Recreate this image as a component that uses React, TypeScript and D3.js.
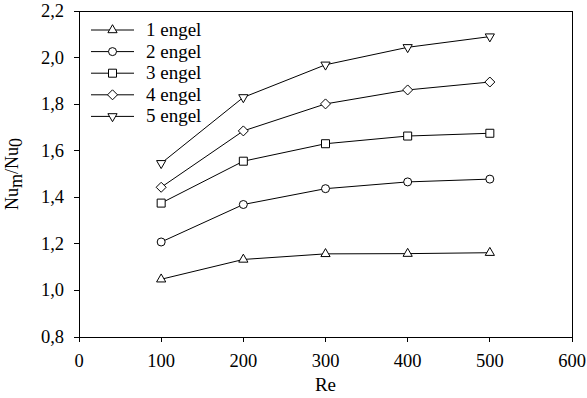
import * as d3 from 'd3'

const reValues = [100, 200, 300, 400, 500]
const seriesNames = ['1 engel', '2 engel', '3 engel', '4 engel', '5 engel']
const engel1 = [1.048, 1.133, 1.157, 1.158, 1.162]
const engel2 = [1.208, 1.369, 1.437, 1.466, 1.478]
const engel3 = [1.375, 1.555, 1.63, 1.663, 1.675]
const engel4 = [1.443, 1.685, 1.801, 1.861, 1.895]
const engel5 = [1.546, 1.829, 1.969, 2.044, 2.09]
const xTicks = [0, 100, 200, 300, 400, 500, 600]
const yTicks = [0.8, 1.0, 1.2, 1.4, 1.6, 1.8, 2.0, 2.2]

const allSeries = [engel1, engel2, engel3, engel4, engel5]
const markerTypes = ['triUp', 'circle', 'square', 'diamond', 'triDown']

const FONT = "'Liberation Serif'"

function markerPath(type: string): string {
  switch (type) {
    case 'triUp':
      return 'M0,-5.3L4.6,2.7L-4.6,2.7Z'
    case 'triDown':
      return 'M0,5.3L4.6,-2.7L-4.6,-2.7Z'
    case 'square':
      return 'M-4,-4L4,-4L4,4L-4,4Z'
    case 'diamond':
      return 'M0,-5L5,0L0,5L-5,0Z'
    default:
      return 'M4,0A4,4 0 1,1 -4,0A4,4 0 1,1 4,0Z'
  }
}

export default function App() {
  const width = 587
  const height = 398
  const left = 79
  const right = 572
  const top = 11
  const bottom = 337

  const x = d3.scaleLinear().domain([0, 600]).range([left, right])
  const y = d3.scaleLinear().domain([0.8, 2.2]).range([bottom, top])

  const line = d3
    .line<number>()
    .x((_, i) => x(reValues[i]))
    .y((d) => y(d))

  const tickStyle = { fontFamily: FONT, fontSize: 18.5 }
  const labelStyle = { fontFamily: FONT, fontSize: 19 }

  return (
    <svg
      width={width}
      height={height}
      style={{ position: 'absolute', left: 0, top: 0, background: '#fff' }}
    >
      {/* frame */}
      <rect
        x={left}
        y={top}
        width={right - left}
        height={bottom - top}
        fill="none"
        stroke="#000"
        shapeRendering="crispEdges"
      />

      {/* x axis */}
      {xTicks.map((t) => (
        <g key={`x${t}`} transform={`translate(${x(t)},${bottom})`}>
          <line y1={0} y2={5} stroke="#000" shapeRendering="crispEdges" />
          <text y={30} textAnchor="middle" style={tickStyle}>
            {t}
          </text>
        </g>
      ))}

      {/* y axis */}
      {yTicks.map((t) => (
        <g key={`y${t}`} transform={`translate(${left},${y(t)})`}>
          <line x1={-5} x2={0} stroke="#000" shapeRendering="crispEdges" />
          <text x={-15} y={6} textAnchor="end" style={tickStyle}>
            {d3.format('.1f')(t).replace('.', ',')}
          </text>
        </g>
      ))}

      {/* axis titles */}
      <text x={(left + right) / 2} y={391} textAnchor="middle" style={labelStyle}>
        Re
      </text>
      <text
        transform={`translate(18,${(top + bottom) / 2}) rotate(-90)`}
        textAnchor="middle"
        style={{ fontFamily: FONT, fontSize: 18 }}
      >
        <tspan>Nu</tspan>
        <tspan dy={4}>m</tspan>
        <tspan dy={-4}>/Nu</tspan>
        <tspan dy={4}>0</tspan>
      </text>

      {/* series */}
      {allSeries.map((vals, si) => (
        <g key={`s${si}`}>
          <path d={line(vals) || ''} fill="none" stroke="#000" />
          {vals.map((v, i) => (
            <path
              key={i}
              transform={`translate(${x(reValues[i])},${y(v)})`}
              d={markerPath(markerTypes[si])}
              fill="#fff"
              stroke="#000"
            />
          ))}
        </g>
      ))}

      {/* legend */}
      <g transform="translate(91,30)">
        {seriesNames.map((name, i) => (
          <g key={name} transform={`translate(0,${i * 21.6})`}>
            <line x1={0} x2={43} stroke="#000" />
            <path
              transform="translate(21.5,0)"
              d={markerPath(markerTypes[i])}
              fill="#fff"
              stroke="#000"
            />
            <text x={55} y={6} style={labelStyle}>
              {name}
            </text>
          </g>
        ))}
      </g>
    </svg>
  )
}
